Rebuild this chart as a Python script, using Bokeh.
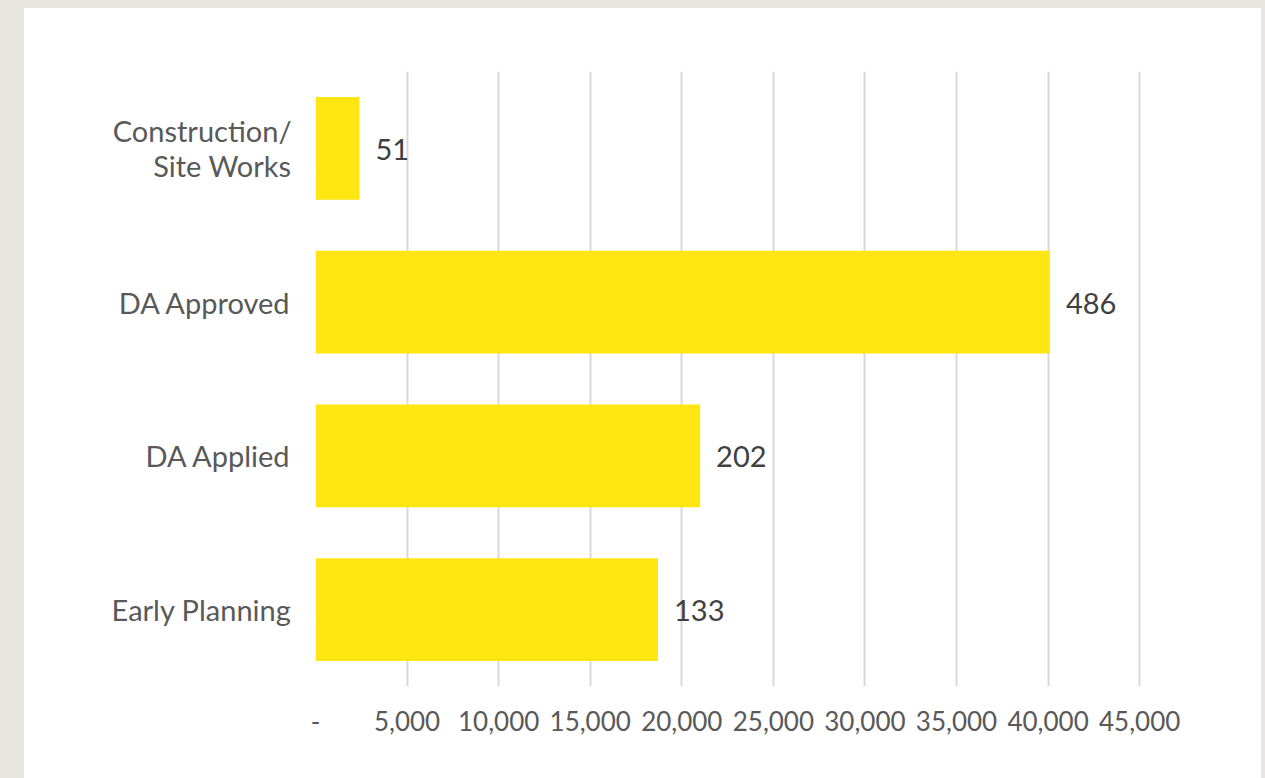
from bokeh.plotting import figure
from bokeh.models import ColumnDataSource, Range1d, FactorRange, FixedTicker, Div
from bokeh.layouts import row, column
from bokeh.core.properties import value
from bokeh.embed import file_html
from bokeh.resources import INLINE

# ---- data ----
categories = ["Early Planning", "DA Applied", "DA Approved", "Construction/\nSite Works"]
bar_values = [18700, 21000, 40100, 2400]
count_labels = ["133", "202", "486", "51"]
tick_values = [0, 5000, 10000, 15000, 20000, 25000, 30000, 35000, 40000, 45000]
tick_labels = ["-", "5,000", "10,000", "15,000", "20,000", "25,000", "30,000", "35,000", "40,000", "45,000"]

GRAY = "#e8e6e1"
YELLOW = "#ffe512"
FONT = "Lato"

src = ColumnDataSource(dict(cat=categories, val=bar_values, lab=count_labels))

p = figure(
    width=1237, height=770,
    y_range=FactorRange(factors=categories, range_padding=0),
    x_range=Range1d(0, 45100),
    output_backend="svg", toolbar_location=None,
    min_border_left=291, min_border_right=120, min_border_top=63, min_border_bottom=92,
)
p.frame_width = 826
p.frame_height = 615
p.background_fill_color = "white"
p.border_fill_color = "white"
p.outline_line_color = None

p.hbar(y="cat", right="val", left=0, height=0.667, source=src,
       fill_color=YELLOW, line_color=None)
p.text(x="val", y="cat", text="lab", source=src, x_offset=16, y_offset=1,
       text_baseline="middle", text_align="left",
       text_font=value(FONT), text_font_size="29px", text_color="#404040")

# x axis
p.xaxis.ticker = FixedTicker(ticks=tick_values)
p.xaxis.major_label_overrides = {v: l for v, l in zip(tick_values, tick_labels)}
p.xaxis.axis_line_color = None
p.xaxis.major_tick_line_color = None
p.xaxis.minor_tick_line_color = None
p.xaxis.major_label_standoff = 18
p.xaxis.major_label_text_font = FONT
p.xaxis.major_label_text_font_size = "26px"
p.xaxis.major_label_text_color = "#595959"

# y axis
p.yaxis.axis_line_color = None
p.yaxis.major_tick_line_color = None
p.yaxis.minor_tick_line_color = None
p.yaxis.major_label_standoff = 18
p.yaxis.major_label_text_font = FONT
p.yaxis.major_label_text_font_size = "29px"
p.yaxis.major_label_text_color = "#595959"
p.yaxis.major_label_text_align = "right"
p.yaxis.major_label_text_line_height = 1.0

p.xgrid.grid_line_color = "#d9d9d9"
p.xgrid.grid_line_width = 2
p.xgrid.ticker = FixedTicker(ticks=tick_values)
p.ygrid.grid_line_color = None

top = Div(width=1265, height=8, margin=0, styles={"background-color": GRAY})
left = Div(width=24, height=770, margin=0, styles={"background-color": GRAY})
right = Div(width=4, height=770, margin=0, styles={"background-color": GRAY})
layout = column(top, row(left, p, right, spacing=0), spacing=0)

open("out.html", "w").write(file_html(layout, INLINE))
